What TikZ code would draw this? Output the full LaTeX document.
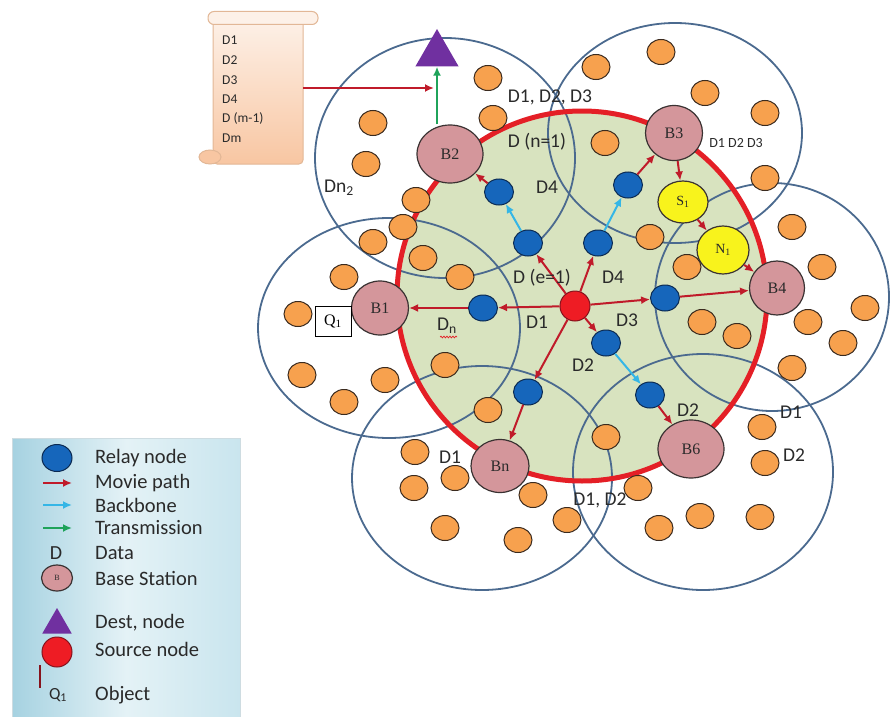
\documentclass[tikz,border=0pt]{standalone}
\usepackage{fontspec}
\setmainfont{Carlito}
\newfontfamily\seriffam{Liberation Serif}
\usetikzlibrary{shapes.geometric,arrows.meta,decorations.pathmorphing}
\definecolor{zoneblue}{HTML}{4B6A8F}
\definecolor{ringred}{HTML}{E41F26}
\definecolor{greenfill}{HTML}{D8E3BF}
\definecolor{bsfill}{HTML}{D4969B}
\definecolor{bsline}{HTML}{3A3232}
\definecolor{orangefill}{HTML}{F7A14E}
\definecolor{dotline}{HTML}{3A2A1E}
\definecolor{relayfill}{HTML}{1666BB}
\definecolor{relayline}{HTML}{0B2A52}
\definecolor{moviered}{HTML}{C01B2A}
\definecolor{backcyan}{HTML}{35B6E6}
\definecolor{transgreen}{HTML}{1FA35A}
\definecolor{destpurple}{HTML}{7030A0}
\definecolor{yellowfill}{HTML}{F8F31C}
\definecolor{srcred}{HTML}{EE1C24}
\definecolor{textdark}{HTML}{2A2A2A}
\definecolor{scrolltop}{HTML}{FDF1E8}
\definecolor{scrollbot}{HTML}{F8C6A2}
\definecolor{scrollline}{HTML}{E2B796}
\definecolor{legleft}{HTML}{A6D2E1}
\definecolor{legmid}{HTML}{E4F2F6}
\definecolor{legright}{HTML}{C9E5EE}
\begin{document}
\begin{tikzpicture}[x=1pt,y=-1pt,
  zone/.style={draw=zoneblue, line width=1.8pt},
  dot/.style={ellipse, draw=dotline, line width=1pt, fill=orangefill, minimum width=28pt, minimum height=25pt, inner sep=0pt},
  relay/.style={ellipse, draw=relayline, line width=1pt, fill=relayfill, minimum width=29pt, minimum height=26pt, inner sep=0pt},
  bs/.style={ellipse, draw=bsline, line width=1.2pt, fill=bsfill, inner sep=0pt, font=\seriffam\fontsize{16}{16}\selectfont, text=textdark},
  yel/.style={ellipse, draw=bsline, line width=1.2pt, fill=yellowfill, inner sep=0pt, font=\seriffam\fontsize{14}{14}\selectfont, text=textdark},
  movie/.style={draw=moviered, line width=2pt, -{Latex[length=9pt,width=8pt]}},
  backbone/.style={draw=backcyan, line width=2pt, -{Latex[length=9pt,width=8pt]}},
  trans/.style={draw=transgreen, line width=2pt, -{Latex[length=9pt,width=8pt]}},
  lbl/.style={font=\fontsize{19.5}{19.5}\selectfont, text=textdark, inner sep=0pt},
  leg/.style={font=\fontsize{20.5}{20.5}\selectfont, text=textdark, anchor=west, inner sep=0pt},
  scrolltxt/.style={font=\fontsize{13.5}{13.5}\selectfont, text=textdark, anchor=west, inner sep=0pt}]
\useasboundingbox (0,0) rectangle (891,717);

% ---------- scroll ----------
\node[draw=scrollline, line width=1pt, rounded corners=4pt, top color=scrolltop, bottom color=scrollbot,
      minimum width=90pt, minimum height=146pt, inner sep=0pt] (scroll) at (258,91) {};
\node[draw=scrollline, line width=1pt, rounded corners=6pt, fill=scrolltop,
      minimum width=110pt, minimum height=13pt, inner sep=0pt] (roll) at (263,18) {};
\node[ellipse, draw=scrollline, line width=1pt, fill=scrollbot, minimum width=22pt, minimum height=14pt, inner sep=0pt] (curl) at (210,157) {};
\node[scrolltxt] (s1) at (222,40) {D1};
\node[scrolltxt] (s2) at (222,60) {D2};
\node[scrolltxt] (s3) at (222,80) {D3};
\node[scrolltxt] (s4) at (222,99) {D4};
\node[scrolltxt] (s5) at (222,118) {D (m-1)};
\node[scrolltxt] (s6) at (222,138) {Dm};

% ---------- legend ----------
\node[draw=legleft!80!black!40, line width=0.8pt, left color=legleft, right color=legright, middle color=legmid,
      minimum width=228pt, minimum height=280pt, inner sep=0pt, anchor=north west] (legend) at (12,438) {};
\node[relay, minimum width=30pt, minimum height=27pt] (lrelay) at (57,458) {};
\node[leg] (t1) at (95,458) {Relay node};
\coordinate (lm1) at (43,483); \coordinate (lm2) at (72,483);
\draw[movie] (lm1) -- (lm2);
\node[leg] (t2) at (95,483) {Movie path};
\coordinate (lb1) at (43,505); \coordinate (lb2) at (72,505);
\draw[backbone] (lb1) -- (lb2);
\node[leg] (t3) at (95,505) {Backbone};
\coordinate (lt1) at (43,528); \coordinate (lt2) at (72,528);
\draw[trans] (lt1) -- (lt2);
\node[leg] (t4) at (95,528) {Transmission};
\node[font=\fontsize{20}{20}\selectfont, text=textdark, inner sep=0pt] (ld) at (56,553) {D};
\node[leg] (t5) at (95,553) {Data};
\node[bs, minimum width=31pt, minimum height=26pt, font=\seriffam\fontsize{8}{8}\selectfont] (lbs) at (57,578) {B};
\node[leg] (t6) at (95,578) {Base Station};
\node[regular polygon, regular polygon sides=3, minimum size=34pt, inner sep=0pt, fill=destpurple] (ldest) at (57,625) {};
\node[leg] (t7) at (95,623) {Dest, node};
\node[circle, draw=moviered!70!black, line width=1pt, fill=srcred, minimum size=30pt, inner sep=0pt] (lsrc) at (57,652) {};
\node[leg] (t8) at (95,649) {Source node};
\coordinate (lo1) at (40,665); \coordinate (lo2) at (40,688);
\draw[draw=moviered!70!black, line width=2pt] (lo1) -- (lo2);
\node[font=\fontsize{17}{17}\selectfont, text=textdark, inner sep=0pt] (lq) at (58,695) {Q\textsubscript{1}};
\node[leg] (t9) at (95,695) {Object};

% ---------- cells ----------
\fill[greenfill] (582,296) circle [radius=185];
\draw[zone] (445,158) ellipse [x radius=130, y radius=120];
\draw[zone] (675,133) ellipse [x radius=127, y radius=110];
\draw[zone] (772,297) ellipse [x radius=117, y radius=114];
\draw[zone] (703,472) ellipse [x radius=130, y radius=118];
\draw[zone] (482,478) ellipse [x radius=130, y radius=112];
\draw[zone] (389,328) ellipse [x radius=131, y radius=110];
\draw[draw=ringred, line width=5pt] (582,296) circle [radius=185];

% ---------- orange user nodes ----------
\foreach \p [count=\i] in {(488,78),(493,118),(373,123),(366,164),(416,200),(403,227),(373,242),(423,258),(460,277),(344,277),
  (596,67),(661,52),(705,93),(765,113),(605,143),(765,178),(650,237),(792,227),(687,267),(822,267),
  (865,308),(702,322),(737,336),(808,322),(843,343),(792,368),(762,427),(765,463),(606,437),(638,488),
  (659,528),(700,516),(760,517),(567,520),(298,314),(445,365),(302,375),(385,380),(344,402),(488,410),
  (415,452),(414,488),(455,478),(445,528),(533,495),(518,540)}
  \node[dot] (o\i) at \p {};

% ---------- base stations, relays, source ----------
\node[bs, minimum width=66pt, minimum height=58pt] (B2) at (450,154) {B2};
\node[bs, minimum width=57pt, minimum height=54pt] (B1) at (380,308) {B1};
\node[bs, minimum width=57pt, minimum height=55pt] (B3) at (674,133) {B3};
\node[bs, minimum width=55pt, minimum height=54pt] (B4) at (777,288) {B4};
\node[bs, minimum width=66pt, minimum height=58pt] (B6) at (691,449) {B6};
\node[bs, minimum width=58pt, minimum height=53pt] (Bn) at (500,466) {Bn};
\node[yel, minimum width=50pt, minimum height=42pt] (S1) at (683,202) {S\textsubscript{1}};
\node[yel, minimum width=52pt, minimum height=48pt] (N1) at (723,250) {N\textsubscript{1}};

\node[relay] (rL) at (483,308) {};
\node[relay] (rUL) at (528,243) {};
\node[relay] (rUR) at (598,243) {};
\node[relay] (rR) at (665,298) {};
\node[relay] (rD) at (606,343) {};
\node[relay] (rD2) at (650,395) {};
\node[relay] (rDL) at (528,392) {};
\node[relay] (rB2) at (499,192) {};
\node[relay] (rB3) at (628,185) {};
\node[circle, draw=moviered!70!black, line width=1pt, fill=srcred, minimum size=30pt, inner sep=0pt] (src) at (575,306) {};

\node[regular polygon, regular polygon sides=3, minimum size=50pt, inner sep=0pt, fill=destpurple] (dest) at (437,54) {};
\node[draw=black, line width=1pt, fill=white, minimum width=36pt, minimum height=30pt, inner sep=0pt,
      font=\seriffam\fontsize{16}{16}\selectfont] (Q1) at (333,321) {Q\textsubscript{1}};

% ---------- connectors ----------
\draw[movie] (src) -- (rL);
\draw[movie] (rL) -- (B1);
\draw[movie] (src) -- (rUL);
\draw[movie] (src) -- (rUR);
\draw[movie] (src) -- (rR);
\draw[movie] (rR) -- (B4);
\draw[movie] (src) -- (rD);
\draw[movie] (src) -- (rDL);
\draw[movie] (rDL) -- (Bn);
\draw[movie] (rD2) -- (B6);
\draw[movie] (rB2) -- (B2);
\draw[movie] (rB3) -- (B3);
\draw[movie] (B3) -- (S1);
\draw[movie] (S1) -- (N1);
\draw[movie] (N1) -- (B4);
\draw[backbone] (rUL) -- (rB2);
\draw[backbone] (rUR) -- (rB3);
\draw[backbone] (rD) -- (rD2);
\coordinate (tstart) at (dest.south |- B2.north);
\draw[trans] (tstart) -- (dest.south);
\coordinate (sa) at (303,88);
\coordinate (hit) at (434,88);
\draw[movie] (sa) -- (hit);

% ---------- labels ----------
\node[lbl] (l1) at (550,97) {D1, D2, D3};
\node[lbl] (l2) at (537,142) {D (n=1)};
\node[lbl] (l3) at (547,187) {D4};
\node[lbl] (l4) at (339,188) {Dn\textsubscript{2}};
\node[lbl, font=\fontsize{14}{14}\selectfont] (l5) at (736,143) {D1 D2 D3};
\node[lbl] (l6) at (542,278) {D (e=1)};
\node[lbl] (l7) at (613,277) {D4};
\node[lbl] (l8) at (537,322) {D1};
\node[lbl] (l9) at (627,320) {D3};
\node[lbl] (l10) at (583,365) {D2};
\node[lbl] (l11) at (447,326) {D\textsubscript{n}};
\draw[ringred, line width=0.7pt, decorate, decoration={snake, amplitude=0.9pt, segment length=3pt}] (440,337) -- (457,337);
\node[lbl] (l12) at (688,410) {D2};
\node[lbl] (l13) at (791,412) {D1};
\node[lbl] (l14) at (794,455) {D2};
\node[lbl] (l15) at (600,500) {D1, D2};
\node[lbl] (l16) at (450,457) {D1};
\end{tikzpicture}
\end{document}
